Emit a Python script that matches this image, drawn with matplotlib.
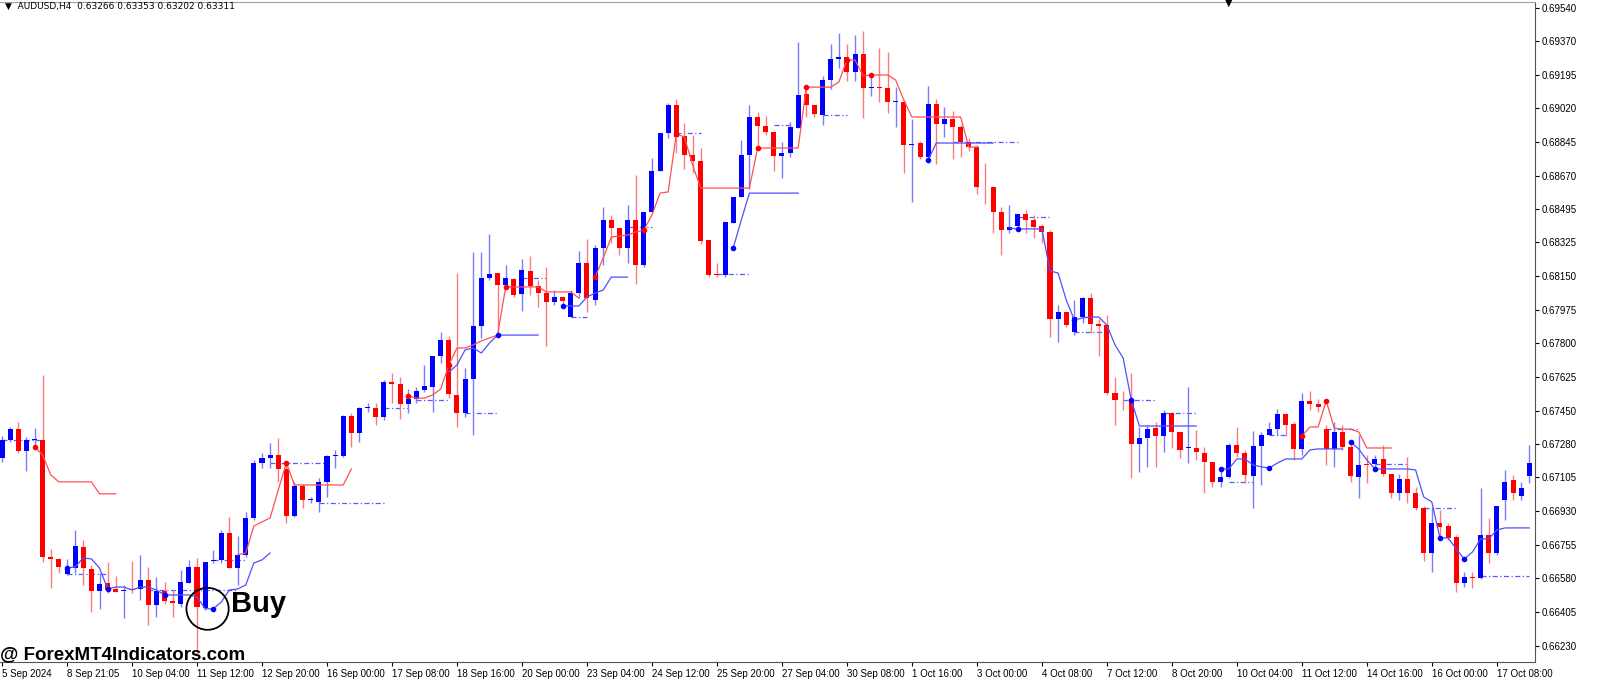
"""AUDUSD H4 candlestick chart with trailing-stop lines (MT4 style)."""

import numpy as np
import matplotlib.pyplot as plt
from matplotlib.patches import Ellipse

# OHLC per H4 candle (price)
opens = [0.67205, 0.67298, 0.67355, 0.67242, 0.67298, 0.67298, 0.66691, 0.66681, 0.66603, 0.66634,
         0.66743, 0.66629, 0.66515, 0.66556, 0.66525, 0.66515, 0.66525, 0.66525, 0.66572, 0.66442,
         0.66515, 0.66463, 0.66447, 0.66556, 0.66640, 0.66427, 0.66671, 0.66676, 0.66816, 0.66634,
         0.66702, 0.66894, 0.67179, 0.67205, 0.67221, 0.67148, 0.66904, 0.67060, 0.66987, 0.66977,
         0.67081, 0.67216, 0.67216, 0.67423, 0.67335, 0.67464, 0.67464, 0.67418, 0.67600, 0.67589,
         0.67485, 0.67511, 0.67558, 0.67573, 0.67734, 0.67817, 0.67532, 0.67438, 0.67615, 0.67890,
         0.68139, 0.68165, 0.68103, 0.68134, 0.68056, 0.68176, 0.68098, 0.68061, 0.68015, 0.68041,
         0.67937, 0.68061, 0.68217, 0.68025, 0.68295, 0.68440, 0.68399, 0.68295, 0.68440, 0.68207,
         0.68482, 0.68695, 0.68892, 0.69037, 0.68876, 0.68778, 0.68747, 0.68336, 0.68160, 0.68155,
         0.68425, 0.68560, 0.68778, 0.68975, 0.68928, 0.68897, 0.68773, 0.68788, 0.68918, 0.69094,
         0.69037, 0.68985, 0.69167, 0.69276, 0.69286, 0.69208, 0.69302, 0.69125, 0.69130, 0.69125,
         0.69053, 0.69053, 0.68830, 0.68840, 0.68767, 0.69042, 0.68939, 0.68964, 0.68923, 0.68845,
         0.68819, 0.68614, 0.68612, 0.68482, 0.68388, 0.68409, 0.68471, 0.68440, 0.68409, 0.68378,
         0.67927, 0.67963, 0.67859, 0.67937, 0.68035, 0.67901, 0.67895, 0.67542, 0.67506, 0.67511,
         0.67278, 0.67309, 0.67360, 0.67319, 0.67438, 0.67340, 0.67257, 0.67257, 0.67231, 0.67184,
         0.67081, 0.67107, 0.67273, 0.67231, 0.67112, 0.67267, 0.67324, 0.67355, 0.67433, 0.67381,
         0.67252, 0.67501, 0.67485, 0.67355, 0.67252, 0.67340, 0.67262, 0.67107, 0.67174, 0.67174,
         0.67200, 0.67122, 0.67024, 0.67096, 0.67024, 0.66946, 0.66712, 0.66868, 0.66852, 0.66795,
         0.66556, 0.66588, 0.66582, 0.66805, 0.66712, 0.66987, 0.67091, 0.67008, 0.67112]
highs = [0.67319, 0.67366, 0.67392, 0.67314, 0.67360, 0.67636, 0.66733, 0.66686, 0.66681, 0.66831,
         0.66779, 0.66650, 0.66608, 0.66665, 0.66593, 0.66546, 0.66671, 0.66702, 0.66640, 0.66588,
         0.66561, 0.66520, 0.66624, 0.66676, 0.66686, 0.66442, 0.66728, 0.66831, 0.66899, 0.66800,
         0.66925, 0.67195, 0.67231, 0.67283, 0.67309, 0.67184, 0.67081, 0.67070, 0.67003, 0.67101,
         0.67221, 0.67247, 0.67428, 0.67438, 0.67470, 0.67490, 0.67490, 0.67610, 0.67646, 0.67625,
         0.67563, 0.67573, 0.67688, 0.67734, 0.67859, 0.67838, 0.68165, 0.67672, 0.68274, 0.68274,
         0.68368, 0.68165, 0.68207, 0.68139, 0.68238, 0.68253, 0.68129, 0.68197, 0.68077, 0.68046,
         0.68077, 0.68279, 0.68342, 0.68311, 0.68508, 0.68466, 0.68399, 0.68518, 0.68674, 0.68482,
         0.68762, 0.68892, 0.69047, 0.69068, 0.68944, 0.68881, 0.68814, 0.68336, 0.68217, 0.68430,
         0.68560, 0.68855, 0.69037, 0.69001, 0.68980, 0.68897, 0.68845, 0.68949, 0.69364, 0.69120,
         0.69037, 0.69188, 0.69354, 0.69411, 0.69354, 0.69400, 0.69421, 0.69182, 0.69333, 0.69312,
         0.69130, 0.69063, 0.68964, 0.68850, 0.69136, 0.69068, 0.69027, 0.69006, 0.68933, 0.68866,
         0.68830, 0.68736, 0.68612, 0.68508, 0.68518, 0.68471, 0.68492, 0.68466, 0.68420, 0.68388,
         0.68000, 0.67963, 0.68025, 0.68041, 0.68061, 0.67927, 0.67947, 0.67625, 0.67553, 0.67646,
         0.67366, 0.67376, 0.67392, 0.67454, 0.67444, 0.67340, 0.67573, 0.67350, 0.67262, 0.67184,
         0.67159, 0.67283, 0.67366, 0.67247, 0.67345, 0.67340, 0.67392, 0.67459, 0.67438, 0.67392,
         0.67542, 0.67553, 0.67511, 0.67376, 0.67392, 0.67376, 0.67298, 0.67324, 0.67221, 0.67221,
         0.67273, 0.67122, 0.67122, 0.67211, 0.67055, 0.66956, 0.66946, 0.66935, 0.66868, 0.66805,
         0.66613, 0.66613, 0.67049, 0.66894, 0.66956, 0.67143, 0.67117, 0.67081, 0.67273]
lows = [0.67184, 0.67288, 0.67231, 0.67138, 0.67273, 0.66665, 0.66531, 0.66608, 0.66598, 0.66608,
        0.66546, 0.66406, 0.66421, 0.66504, 0.66509, 0.66375, 0.66504, 0.66468, 0.66338, 0.66380,
        0.66447, 0.66380, 0.66432, 0.66556, 0.66183, 0.66416, 0.66660, 0.66660, 0.66634, 0.66546,
        0.66691, 0.66883, 0.67153, 0.67153, 0.67081, 0.66868, 0.66899, 0.66946, 0.66971, 0.66925,
        0.67003, 0.67153, 0.67211, 0.67262, 0.67288, 0.67444, 0.67376, 0.67402, 0.67490, 0.67407,
        0.67438, 0.67490, 0.67548, 0.67444, 0.67698, 0.67516, 0.67366, 0.67418, 0.67324, 0.67828,
        0.68129, 0.67843, 0.68092, 0.68041, 0.67968, 0.68051, 0.67989, 0.67786, 0.67999, 0.67999,
        0.67937, 0.68035, 0.67963, 0.67999, 0.68207, 0.68321, 0.68259, 0.68217, 0.68108, 0.68197,
        0.68482, 0.68695, 0.68866, 0.68788, 0.68705, 0.68684, 0.68316, 0.68144, 0.68144, 0.68144,
        0.68425, 0.68560, 0.68601, 0.68824, 0.68881, 0.68695, 0.68658, 0.68767, 0.68918, 0.68975,
        0.68975, 0.68933, 0.69120, 0.69229, 0.69162, 0.69162, 0.68970, 0.69084, 0.69053, 0.68996,
        0.68923, 0.68684, 0.68534, 0.68757, 0.68736, 0.68731, 0.68871, 0.68757, 0.68767, 0.68799,
        0.68575, 0.68523, 0.68373, 0.68259, 0.68373, 0.68399, 0.68373, 0.68347, 0.68321, 0.67833,
        0.67807, 0.67885, 0.67843, 0.67906, 0.67854, 0.67734, 0.67532, 0.67376, 0.67454, 0.67101,
        0.67133, 0.67159, 0.67159, 0.67236, 0.67257, 0.67205, 0.67179, 0.67195, 0.67024, 0.67055,
        0.67055, 0.67101, 0.67211, 0.67076, 0.66946, 0.67065, 0.67324, 0.67324, 0.67319, 0.67195,
        0.67221, 0.67454, 0.67444, 0.67169, 0.67159, 0.67247, 0.67081, 0.66997, 0.67076, 0.67159,
        0.67112, 0.66997, 0.66987, 0.66971, 0.66935, 0.66671, 0.66613, 0.66779, 0.66779, 0.66509,
        0.66535, 0.66530, 0.66577, 0.66660, 0.66702, 0.66883, 0.66987, 0.66987, 0.67076]
closes = [0.67298, 0.67355, 0.67242, 0.67298, 0.67304, 0.66691, 0.66681, 0.66640, 0.66640, 0.66748,
          0.66634, 0.66515, 0.66551, 0.66520, 0.66509, 0.66520, 0.66522, 0.66572, 0.66442, 0.66515,
          0.66463, 0.66453, 0.66561, 0.66640, 0.66432, 0.66665, 0.66676, 0.66816, 0.66634, 0.66702,
          0.66894, 0.67179, 0.67205, 0.67221, 0.67148, 0.66904, 0.67060, 0.66987, 0.66992, 0.67081,
          0.67216, 0.67221, 0.67423, 0.67335, 0.67464, 0.67470, 0.67418, 0.67600, 0.67589, 0.67485,
          0.67511, 0.67553, 0.67579, 0.67734, 0.67817, 0.67537, 0.67438, 0.67615, 0.67890, 0.68139,
          0.68160, 0.68103, 0.68139, 0.68051, 0.68181, 0.68098, 0.68061, 0.68015, 0.68041, 0.68020,
          0.68061, 0.68217, 0.68035, 0.68295, 0.68440, 0.68399, 0.68295, 0.68440, 0.68207, 0.68482,
          0.68695, 0.68892, 0.69037, 0.68871, 0.68778, 0.68747, 0.68331, 0.68155, 0.68155, 0.68430,
          0.68560, 0.68778, 0.68975, 0.68928, 0.68897, 0.68773, 0.68788, 0.68923, 0.69089, 0.69037,
          0.68990, 0.69167, 0.69276, 0.69286, 0.69208, 0.69302, 0.69125, 0.69130, 0.69125, 0.69053,
          0.69058, 0.68830, 0.68835, 0.68767, 0.69042, 0.68939, 0.68964, 0.68923, 0.68845, 0.68819,
          0.68612, 0.68610, 0.68482, 0.68388, 0.68404, 0.68471, 0.68440, 0.68404, 0.68378, 0.67927,
          0.67963, 0.67895, 0.67937, 0.68035, 0.67901, 0.67890, 0.67542, 0.67506, 0.67504, 0.67278,
          0.67309, 0.67355, 0.67319, 0.67438, 0.67340, 0.67247, 0.67262, 0.67236, 0.67184, 0.67081,
          0.67107, 0.67273, 0.67231, 0.67117, 0.67267, 0.67324, 0.67355, 0.67433, 0.67376, 0.67252,
          0.67501, 0.67485, 0.67470, 0.67252, 0.67340, 0.67262, 0.67112, 0.67169, 0.67169, 0.67200,
          0.67122, 0.67024, 0.67096, 0.67024, 0.66946, 0.66712, 0.66868, 0.66847, 0.66790, 0.66556,
          0.66588, 0.66582, 0.66805, 0.66712, 0.66956, 0.67081, 0.67024, 0.67049, 0.67179]

# trailing stop lines: (first candle index, values)
red_segments = [
    (4, [0.67262, 0.67221, 0.67117, 0.67081, 0.67081, 0.67081, 0.67081, 0.67081, 0.67019, 0.67019, 0.67019]),
    (29, [0.66702, 0.66712, 0.66852, 0.66873, 0.66894, 0.67039, 0.67179, 0.67065, 0.67065, 0.67065,
          0.67065, 0.67065, 0.67065, 0.67065, 0.67148]),
    (50, [0.67527, 0.67516, 0.67516, 0.67532, 0.67563, 0.67688, 0.67776, 0.67776, 0.67792, 0.67813,
          0.67828, 0.67843, 0.68093, 0.68093, 0.68093, 0.68093, 0.68093, 0.68067, 0.68067, 0.68067,
          0.68067, 0.68035]),
    (73, [0.68144, 0.68243, 0.68352, 0.68357, 0.68362, 0.68378, 0.68388, 0.68466, 0.68580, 0.68586,
          0.68887, 0.68871, 0.68726, 0.68606, 0.68606, 0.68606, 0.68606, 0.68606, 0.68606, 0.68606,
          0.68814, 0.68814, 0.68814, 0.68814, 0.68814, 0.68814, 0.69130, 0.69130, 0.69130, 0.69130,
          0.69156, 0.69271, 0.69271, 0.69188, 0.69193, 0.69193, 0.69193, 0.69167, 0.69063, 0.68975,
          0.68975, 0.68975, 0.68975, 0.68975, 0.68975, 0.68975, 0.68819, 0.68819]),
    (160, [0.67319, 0.67366, 0.67366, 0.67501, 0.67360, 0.67355, 0.67355, 0.67340, 0.67257, 0.67257,
           0.67257, 0.67257]),
]
blue_segments = [
    (8, [0.66634, 0.66640, 0.66686, 0.66681, 0.66634, 0.66525, 0.66535, 0.66535, 0.66520, 0.66535,
         0.66535, 0.66520, 0.66494, 0.66494, 0.66494, 0.66494, 0.66484, 0.66422, 0.66422, 0.66458,
         0.66520, 0.66525, 0.66546, 0.66660, 0.66676, 0.66712]),
    (55, [0.67651, 0.67688, 0.67766, 0.67776, 0.67750, 0.67802, 0.67843, 0.67843, 0.67843, 0.67843,
          0.67843, 0.67843]),
    (69, [0.67994, 0.67994, 0.67994, 0.68041, 0.68061, 0.68077, 0.68144, 0.68144, 0.68144]),
    (90, [0.68295, 0.68440, 0.68580, 0.68580, 0.68580, 0.68580, 0.68580, 0.68580, 0.68580]),
    (114, [0.68752, 0.68840, 0.68840, 0.68840, 0.68840, 0.68840, 0.68840, 0.68840, 0.68840]),
    (124, [0.68399, 0.68394, 0.68394, 0.68394, 0.68394, 0.68176, 0.68165, 0.68025, 0.67921, 0.67932,
           0.67937, 0.67937, 0.67895, 0.67792, 0.67724, 0.67506, 0.67371, 0.67371, 0.67371, 0.67371,
           0.67371, 0.67371, 0.67371, 0.67371]),
    (150, [0.67148, 0.67148, 0.67200, 0.67200, 0.67169, 0.67159, 0.67153, 0.67179, 0.67200, 0.67200,
           0.67200, 0.67247, 0.67252, 0.67252, 0.67252, 0.67252]),
    (166, [0.67288, 0.67252, 0.67195, 0.67148, 0.67148, 0.67148, 0.67148, 0.67148, 0.67143, 0.67003,
           0.66977, 0.66790, 0.66790, 0.66733, 0.66681, 0.66717, 0.66785, 0.66785, 0.66831, 0.66842,
           0.66842, 0.66842, 0.66842]),
]
red_dots = [4, 35, 50, 55, 62, 73, 79, 83, 93, 99, 104, 107, 160, 163]
blue_dots = [8, 13, 20, 26, 61, 69, 90, 114, 125, 132, 139, 150, 156, 166, 169, 177, 180]

# dash-dot support levels: (from, to, price)
support_levels = [
    (0, 5, 0.67298), (8, 13, 0.66603), (18, 29, 0.66520), (26, 30, 0.66676), (33, 40, 0.67179),
    (39, 47, 0.66971), (47, 50, 0.67464), (51, 55, 0.67506), (57, 61, 0.67438), (64, 67, 0.68139),
    (70, 72, 0.67937), (77, 80, 0.68404), (83, 86, 0.68892), (88, 92, 0.68160), (95, 97, 0.68933),
    (101, 104, 0.68985), (117, 125, 0.68845), (125, 129, 0.68456), (132, 136, 0.67859),
    (138, 142, 0.67506), (143, 147, 0.67438), (151, 154, 0.67081), (156, 158, 0.67324),
    (163, 167, 0.67355), (169, 173, 0.67174), (175, 179, 0.66946), (182, 188, 0.66593),
]

x_labels = ["5 Sep 2024", "8 Sep 21:05", "10 Sep 04:00", "11 Sep 12:00", "12 Sep 20:00",
            "16 Sep 00:00", "17 Sep 08:00", "18 Sep 16:00", "20 Sep 00:00", "23 Sep 04:00",
            "24 Sep 12:00", "25 Sep 20:00", "27 Sep 04:00", "30 Sep 08:00", "1 Oct 16:00",
            "3 Oct 00:00", "4 Oct 08:00", "7 Oct 12:00", "8 Oct 20:00", "10 Oct 04:00",
            "11 Oct 12:00", "14 Oct 16:00", "16 Oct 00:00", "17 Oct 08:00"]
price_ticks = [0.69540, 0.69370, 0.69195, 0.69020, 0.68845, 0.68670, 0.68495, 0.68325, 0.68150,
               0.67975, 0.67800, 0.67625, 0.67450, 0.67280, 0.67105, 0.66930, 0.66755, 0.66580,
               0.66405, 0.66230]

BUY_IDX, BUY_PRICE = 25.3, 0.66422

BULL, BEAR = "#0000ff", "#ff0000"
BULL_W, BEAR_W = "#7b7bff", "#ff7b7b"


def main() -> None:
    plt.rcParams["font.family"] = ["Liberation Sans", "DejaVu Sans"]
    fig = plt.figure(figsize=(16, 6.89), dpi=100)
    ax = fig.add_axes([0.0, 27 / 689, 1535 / 1600, 660 / 689])

    o, h, l, c = map(np.array, (opens, highs, lows, closes))
    idx = np.arange(len(o))
    up = c >= o
    for i in idx:
        col = BULL if up[i] else BEAR
        wcol = BULL_W if up[i] else BEAR_W
        ax.vlines(i, l[i], h[i], color=wcol, linewidth=1.0, zorder=2)
        lo, hi = min(o[i], c[i]), max(o[i], c[i])
        ax.bar(i, max(hi - lo, 0.00003), bottom=lo, width=0.62, color=col,
               linewidth=0, zorder=3)

    for start, lo_i_hi in [(s, (a, b, p)) for s, (a, b, p) in enumerate(support_levels)]:
        a, b, p = lo_i_hi
        ax.plot([a, b], [p, p], color="#3030ff", linewidth=0.9, linestyle=(0, (4, 2, 1, 2)),
                alpha=0.8, zorder=1)

    for start, vals in red_segments:
        ax.plot(np.arange(start, start + len(vals)), vals, color="#ff5050", linewidth=0.9, zorder=4)
    for start, vals in blue_segments:
        ax.plot(np.arange(start, start + len(vals)), vals, color="#5050ff", linewidth=0.9, zorder=4)

    def seg_value(segments, i):
        for start, vals in segments:
            if start <= i < start + len(vals):
                return vals[i - start]
        return None

    for i in red_dots:
        v = seg_value(red_segments, i)
        if v is not None:
            ax.plot(i, v, "o", color="#ff0000", markersize=3, zorder=5)
    for i in blue_dots:
        v = seg_value(blue_segments, i)
        if v is not None:
            ax.plot(i, v, "o", color="#0000ff", markersize=3, zorder=5)

    ax.set_xlim(-0.25, 188.7)
    ax.set_ylim(0.66146, 0.69572)

    ax.yaxis.tick_right()
    ax.set_yticks(price_ticks)
    ax.set_yticklabels([f"{p:.5f}" for p in price_ticks], fontsize=7)
    ax.set_xticks(np.arange(0, 8 * len(x_labels), 8))
    ax.set_xticklabels(x_labels, fontsize=7, ha="left")
    ax.tick_params(axis="both", length=3, width=0.8, pad=2, colors="black")
    for sp in ("left",):
        ax.spines[sp].set_visible(False)
    ax.spines["top"].set_color("#a0a0a0")
    ax.spines["right"].set_color("#555555")
    ax.spines["bottom"].set_color("#555555")

    # Buy annotation
    ax.add_patch(Ellipse((BUY_IDX, BUY_PRICE), 5.2, 0.00218, fill=False, edgecolor="black",
                         linewidth=1.3, zorder=6))
    ax.text(BUY_IDX + 2.9, BUY_PRICE + 0.00025, "Buy", fontsize=21, fontweight="bold",
            va="center", ha="left", zorder=6)

    fig.text(0.003, 1 - 6 / 689, "\u25bc  AUDUSD,H4  0.63266 0.63353 0.63202 0.63311",
             fontsize=6.5, va="center", ha="left", family=["DejaVu Sans"])
    fig.text(1229 / 1600, 1 - 3 / 689, "\u25bc", fontsize=7, va="center", ha="center",
             family=["DejaVu Sans"])
    fig.text(0.0, 1 - 655 / 689, "@ ForexMT4Indicators.com", fontsize=13.5, fontweight="bold",
             va="center", ha="left")

    fig.savefig("out.png", dpi=100)
    plt.close(fig)


if __name__ == "__main__":
    main()
